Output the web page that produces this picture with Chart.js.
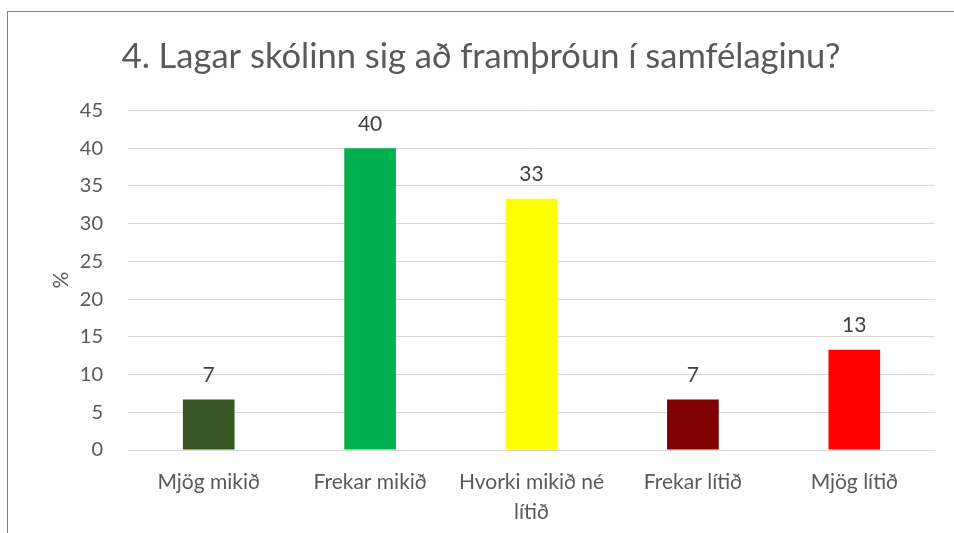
<!DOCTYPE html>
<html>
<head>
<meta charset="utf-8">
<script src="https://cdn.jsdelivr.net/npm/chart.js@4"></script>
<style>
  html, body { margin: 0; padding: 0; background: #fff; overflow: hidden; }
  #frame { position: absolute; left: 7px; top: 11px; width: 960px; height: 540px;
           border-left: 1px solid #808080; border-top: 1px solid #808080; }
  #wrap { position: absolute; left: 0; top: 0; width: 954px; height: 533px; }
</style>
</head>
<body>
<div id="frame"></div>
<div id="wrap"><canvas id="myChart"></canvas></div>
<script>
// svarmöguleikar og hlutfall (%)
const categories = ['Mjög mikið', 'Frekar mikið', ['Hvorki mikið né', 'lítið'], 'Frekar lítið', 'Mjög lítið'];
const percentValues = [6.7, 40, 33.3, 6.7, 13.3];
const barColors = ['#375623', '#00b050', '#ffff00', '#7f0000', '#ff0000'];
const yTicks = [0, 5, 10, 15, 20, 25, 30, 35, 40, 45];

const FONT = 'Lato, "Open Sans", sans-serif';
const GRAY = '#595959';

// skrifar gildin fyrir ofan súlurnar
const valueLabels = {
    id: 'valueLabels',
    afterDatasetsDraw(chart) {
        const ctx = chart.ctx;
        const meta = chart.getDatasetMeta(0);
        ctx.save();
        ctx.font = '21px ' + FONT;
        ctx.fillStyle = '#404040';
        ctx.textAlign = 'center';
        ctx.textBaseline = 'middle';
        meta.data.forEach((bar, i) => {
            ctx.fillText(Math.round(percentValues[i]), bar.x, bar.y - 24);
        });
        ctx.restore();
    }
};

function createChart() {
    const ctx = document.getElementById('myChart').getContext('2d');
    new Chart(ctx, {
        type: 'bar',
        data: {
            labels: categories,
            datasets: [{
                data: percentValues,
                backgroundColor: barColors,
                borderWidth: 0,
                categoryPercentage: 0.32,
                barPercentage: 1
            }]
        },
        options: {
            responsive: true,
            maintainAspectRatio: false,
            animation: false,
            layout: { padding: { left: 27, right: 19, top: 0, bottom: 0 } },
            plugins: {
                legend: { display: false },
                tooltip: { enabled: false },
                title: {
                    display: true,
                    text: '4. Lagar skólinn sig að framþróun í samfélaginu?',
                    color: GRAY,
                    font: { family: FONT, size: 34.5, weight: 'normal' },
                    padding: { top: 36, bottom: 33 }
                }
            },
            scales: {
                x: {
                    grid: { display: false, drawTicks: false },
                    border: { display: false },
                    ticks: {
                        color: GRAY,
                        font: { family: FONT, size: 21, lineHeight: 1.45 },
                        padding: 17,
                        maxRotation: 0,
                        autoSkip: false
                    },
                    afterFit(scale) { scale.height = 83; }
                },
                y: {
                    min: 0,
                    max: 45,
                    afterBuildTicks(scale) { scale.ticks = yTicks.map(v => ({ value: v })); },
                    grid: { color: '#d9d9d9', lineWidth: 1, drawTicks: false },
                    border: { display: false },
                    ticks: {
                        color: GRAY,
                        font: { family: FONT, size: 20 },
                        padding: 25
                    },
                    title: {
                        display: true,
                        text: '%',
                        color: GRAY,
                        font: { family: FONT, size: 21, weight: 'normal' },
                        padding: { top: 22, bottom: 0 }
                    },
                    afterFit(scale) { scale.width = 101; }
                }
            }
        },
        plugins: [valueLabels]
    });
}

createChart();
</script>
</body>
</html>
